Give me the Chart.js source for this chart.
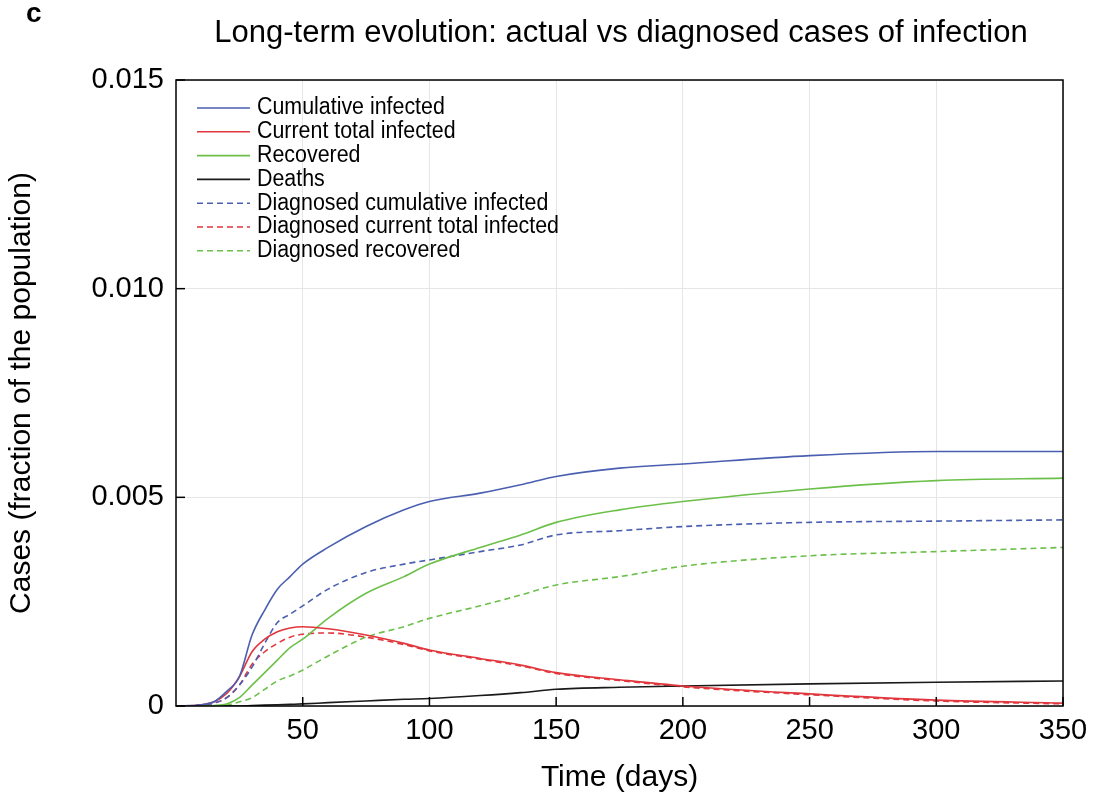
<!DOCTYPE html>
<html>
<head>
<meta charset="utf-8">
<script src="https://cdn.jsdelivr.net/npm/chart.js@4"></script>
<style>
  body { margin: 0; background: #fff; }
  #wrap { width: 1105px; height: 800px; }
</style>
</head>
<body>
<div id="wrap"><canvas id="chart"></canvas></div>
<script>
const days = [0, 10, 15, 20, 25, 30, 35, 40, 45, 50, 60, 75, 90, 100, 120, 136, 150, 175, 200, 250, 300, 350];

const cumulative   = [0, 0.00003, 0.0001, 0.00035, 0.0007, 0.0017, 0.0023, 0.0028, 0.0031, 0.0034, 0.0038, 0.0043, 0.0047, 0.0049, 0.0051, 0.0053, 0.0055, 0.0057, 0.0058, 0.0060, 0.0061, 0.0061];
const current      = [0, 0.00003, 0.0001, 0.0003, 0.0007, 0.0013, 0.0016, 0.00178, 0.00187, 0.0019, 0.00185, 0.0017, 0.0015, 0.00134, 0.00114, 0.00098, 0.0008, 0.00063, 0.00048, 0.00029, 0.00014, 0.00007];
const recovered    = [0, 0, 0.00001, 0.00005, 0.0002, 0.0005, 0.0008, 0.0011, 0.0014, 0.0016, 0.0021, 0.0027, 0.0031, 0.0034, 0.0038, 0.0041, 0.0044, 0.0047, 0.0049, 0.0052, 0.0054, 0.00546];
const deaths       = [0, 0, 0, 0, 0, 0.00001, 0.00002, 0.00003, 0.00004, 0.00005, 0.00008, 0.00012, 0.00016, 0.00018, 0.00025, 0.00032, 0.0004, 0.00045, 0.00048, 0.00053, 0.00057, 0.0006];
const diagCum      = [0, 0.00002, 0.00007, 0.0002, 0.0005, 0.00093, 0.0015, 0.002, 0.0022, 0.0024, 0.0028, 0.0032, 0.0034, 0.0035, 0.0037, 0.00386, 0.0041, 0.0042, 0.0043, 0.0044, 0.00443, 0.00446];
const diagCurrent  = [0, 0.00002, 0.00007, 0.0002, 0.0005, 0.001, 0.0013, 0.0015, 0.00165, 0.00172, 0.00175, 0.00165, 0.00147, 0.00132, 0.00112, 0.00096, 0.00078, 0.00061, 0.00046, 0.00027, 0.00012, 0.00005];
const diagRecov    = [0, 0, 0, 0.00002, 0.0001, 0.0002, 0.0004, 0.0006, 0.00072, 0.00086, 0.0012, 0.00165, 0.0019, 0.0021, 0.0024, 0.00266, 0.0029, 0.0031, 0.00335, 0.0036, 0.0037, 0.0038];

const xTicks = [50, 100, 150, 200, 250, 300, 350];
const yTicks = [0, 0.005, 0.010, 0.015];
const yTickLabels = ['0', '0.005', '0.010', '0.015'];

const BLUE = '#4a5fb0', RED = '#e0363c', GREEN = '#6cc04a', BLACK = '#1a1a1a';
const FONT = '"Liberation Sans", Arial, sans-serif';

function series(label, vals, color, dashed) {
    return {
        label: label,
        data: days.map((d, i) => ({ x: d, y: vals[i] })),
        borderColor: color,
        borderWidth: 1.6,
        borderDash: dashed ? [6, 4] : [],
        pointRadius: 0,
        cubicInterpolationMode: 'monotone',
        fill: false
    };
}

const datasets = [
    series('Cumulative infected', cumulative, BLUE, false),
    series('Current total infected', current, RED, false),
    series('Recovered', recovered, GREEN, false),
    series('Deaths', deaths, BLACK, false),
    series('Diagnosed cumulative infected', diagCum, BLUE, true),
    series('Diagnosed current total infected', diagCurrent, RED, true),
    series('Diagnosed recovered', diagRecov, GREEN, true)
];

/* ---------------------------
   TITLE, LEGEND, FRAME, INWARD TICKS
--------------------------- */
const decor = {
    id: 'decor',
    afterDraw(chart) {
        const ctx = chart.ctx, a = chart.chartArea;
        const xs = chart.scales.x, ys = chart.scales.y;
        ctx.save();
        ctx.fillStyle = '#000';
        ctx.font = 'bold 28px ' + FONT;
        ctx.textBaseline = 'alphabetic';
        ctx.fillText('c', 26, 22);
        ctx.font = '31px ' + FONT;
        ctx.textAlign = 'center';
        ctx.fillText('Long-term evolution: actual vs diagnosed cases of infection', 621, 42);

        // frame
        ctx.strokeStyle = '#000';
        ctx.lineWidth = 1.5;
        ctx.strokeRect(a.left, a.top, a.right - a.left, a.bottom - a.top);
        // inward ticks
        xTicks.forEach(v => {
            const px = xs.getPixelForValue(v);
            ctx.beginPath(); ctx.moveTo(px, a.bottom); ctx.lineTo(px, a.bottom - 9); ctx.stroke();
        });
        yTicks.forEach(v => {
            const py = ys.getPixelForValue(v);
            ctx.beginPath(); ctx.moveTo(a.left, py); ctx.lineTo(a.left + 9, py); ctx.stroke();
        });

        // legend
        ctx.textAlign = 'left';
        ctx.textBaseline = 'middle';
        ctx.font = '23px ' + FONT;
        chart.data.datasets.forEach((ds, i) => {
            const y = 108 + i * 23.8;
            ctx.strokeStyle = ds.borderColor;
            ctx.lineWidth = 1.6;
            ctx.setLineDash(ds.borderDash);
            ctx.beginPath(); ctx.moveTo(197, y); ctx.lineTo(250, y); ctx.stroke();
            ctx.setLineDash([]);
            ctx.fillStyle = '#000';
            ctx.save();
            ctx.translate(257, y);
            ctx.scale(0.93, 1);
            ctx.fillText(ds.label, 0, 0);
            ctx.restore();
        });
        ctx.restore();
    }
};

new Chart(document.getElementById('chart'), {
    type: 'line',
    data: { datasets: datasets },
    options: {
        responsive: true,
        maintainAspectRatio: false,
        animation: false,
        layout: { padding: { top: 80, right: 42, left: 0, bottom: 0 } },
        plugins: { legend: { display: false }, title: { display: false }, tooltip: { enabled: false } },
        scales: {
            x: {
                type: 'linear',
                min: 0, max: 350,
                afterBuildTicks: s => { s.ticks = xTicks.map(v => ({ value: v })); },
                afterFit: s => { s.height = 94; },
                ticks: { color: '#000', font: { size: 29, family: FONT }, padding: 8 },
                grid: { color: '#e6e6e6', drawTicks: false },
                border: { display: false },
                title: { display: true, text: 'Time (days)', color: '#000', font: { size: 30, family: FONT }, padding: { top: 4 } }
            },
            y: {
                min: 0, max: 0.015,
                afterBuildTicks: s => { s.ticks = yTicks.map(v => ({ value: v })); },
                afterFit: s => { s.width = 176; },
                ticks: {
                    color: '#000', font: { size: 29, family: FONT }, padding: 12,
                    callback: v => yTickLabels[yTicks.findIndex(t => Math.abs(t - v) < 1e-9)]
                },
                grid: { color: '#e6e6e6', drawTicks: false },
                border: { display: false },
                title: { display: true, text: 'Cases (fraction of the population)', color: '#000', font: { size: 30, family: FONT }, padding: { bottom: 4 } }
            }
        }
    },
    plugins: [decor]
});
</script>
</body>
</html>
